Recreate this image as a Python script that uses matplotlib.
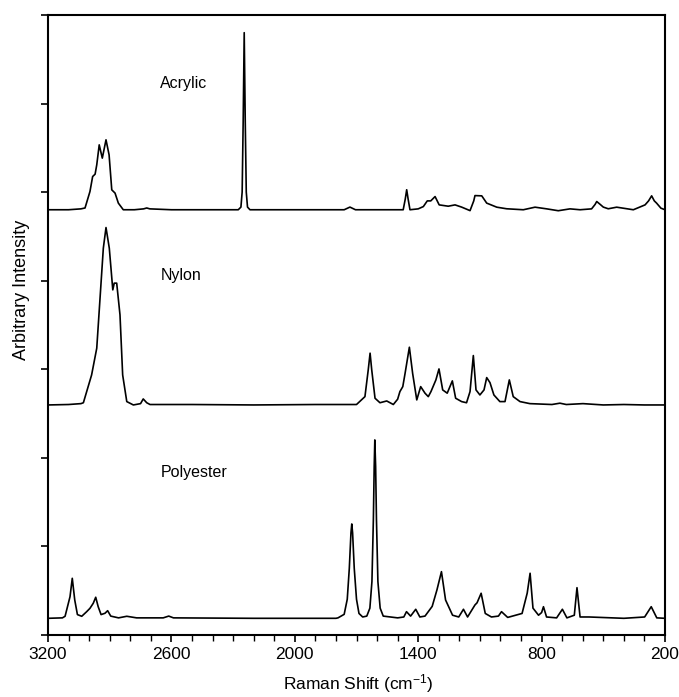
import matplotlib
matplotlib.use("Agg")
import matplotlib.pyplot as plt
from matplotlib.ticker import NullFormatter

plt.rcParams['font.family'] = ['Liberation Sans', 'DejaVu Sans']
plt.rcParams['mathtext.fontset'] = 'custom'
plt.rcParams['mathtext.rm'] = 'Liberation Sans'
plt.rcParams['mathtext.default'] = 'regular'

# traced spectra (Raman shift in cm-1, arbitrary intensity incl. vertical offset)
acrylic_x = [3200, 3100, 3040, 3020, 2996, 2983, 2971, 2963, 2951, 2936, 2918, 2903, 2890,
             2874, 2858, 2834, 2780, 2735, 2720, 2705, 2600, 2400, 2275, 2262, 2256, 2251,
             2246, 2241, 2236, 2230, 2218, 2100, 1760, 1732, 1705, 1500, 1473, 1463, 1456,
             1449, 1440, 1400, 1375, 1356, 1339, 1318, 1298, 1254, 1221, 1189, 1148, 1130,
             1124, 1091, 1067, 1018, 970, 889, 832, 775, 719, 662, 613, 557, 540, 532, 515,
             500, 476, 435, 354, 297, 280, 265, 252, 241, 220, 200]
acrylic_y = [4.80, 4.80, 4.81, 4.82, 5.006, 5.175, 5.202, 5.307, 5.533, 5.383, 5.590, 5.420,
             5.025, 4.988, 4.875, 4.80, 4.80, 4.81, 4.82, 4.81, 4.80, 4.80, 4.80, 4.83, 5.0,
             5.8, 6.80, 5.8, 5.0, 4.83, 4.80, 4.80, 4.80, 4.83, 4.80, 4.80, 4.80, 4.92, 5.026,
             4.92, 4.80, 4.81, 4.836, 4.90, 4.90, 4.949, 4.855, 4.84, 4.855, 4.83, 4.79, 4.90,
             4.96, 4.957, 4.875, 4.829, 4.811, 4.80, 4.829, 4.81, 4.789, 4.81, 4.80, 4.81, 4.86,
             4.893, 4.86, 4.83, 4.811, 4.829, 4.80, 4.855, 4.90, 4.957, 4.90, 4.875, 4.818, 4.80]

nylon_x = [3200, 3100, 3040, 3028, 2988, 2963, 2947, 2931, 2918, 2902, 2885, 2878, 2866,
           2850, 2837, 2817, 2785, 2750, 2737, 2720, 2704, 2500, 2200, 1900, 1700, 1659, 1643,
           1634, 1626, 1610, 1586, 1553, 1521, 1500, 1489, 1475, 1464, 1443, 1427, 1407, 1388,
           1367, 1351, 1338, 1314, 1299, 1281, 1259, 1234, 1218, 1189, 1165, 1148, 1132,
           1119, 1100, 1080, 1067, 1051, 1032, 1003, 978, 957, 938, 905, 857, 750, 711, 680,
           599, 500, 400, 300, 200]
nylon_y = [2.595, 2.60, 2.61, 2.62, 2.934, 3.236, 3.801, 4.366, 4.599, 4.366, 3.895, 3.971,
           3.971, 3.613, 2.934, 2.633, 2.595, 2.61, 2.663, 2.62, 2.60, 2.60, 2.595, 2.60,
           2.60, 2.689, 2.991, 3.180, 2.991, 2.671, 2.62, 2.64, 2.60, 2.66, 2.746, 2.802,
           2.95, 3.247, 2.95, 2.652, 2.802, 2.728, 2.689, 2.746, 2.878, 3.002, 2.765, 2.728,
           2.867, 2.671, 2.633, 2.62, 2.746, 3.153, 2.765, 2.708, 2.765, 2.904, 2.847, 2.708,
           2.633, 2.633, 2.878, 2.689, 2.633, 2.61, 2.60, 2.615, 2.60, 2.61, 2.595, 2.60,
           2.595, 2.595]

polyester_x = [3200, 3130, 3117, 3093, 3082, 3070, 3057, 3036, 3012, 2996, 2980, 2968, 2956,
               2942, 2923, 2910, 2895, 2857, 2817, 2769, 2640, 2613, 2590, 2200, 1800, 1790,
               1760, 1745, 1735, 1727, 1723, 1719, 1711, 1700, 1688, 1670, 1650, 1635, 1625,
               1618, 1614, 1611, 1607, 1603, 1596, 1585, 1570, 1500, 1470, 1457, 1437, 1412,
               1392, 1367, 1332, 1309, 1287, 1267, 1233, 1203, 1180, 1160, 1124, 1114, 1094,
               1074, 1044, 1010, 995, 965, 895, 870, 856, 842, 815, 800, 791, 776, 727, 699,
               677, 641, 628, 613, 569, 400, 299, 267, 240, 200]
polyester_y = [0.185, 0.19, 0.208, 0.429, 0.637, 0.392, 0.227, 0.208, 0.260, 0.298, 0.355,
               0.423, 0.316, 0.227, 0.242, 0.271, 0.21, 0.19, 0.208, 0.19, 0.19, 0.21, 0.19,
               0.185, 0.185, 0.19, 0.23, 0.40, 0.75, 1.15, 1.251, 1.15, 0.75, 0.40, 0.24, 0.20,
               0.21, 0.30, 0.60, 1.30, 1.90, 2.20, 1.90, 1.30, 0.60, 0.30, 0.21, 0.19, 0.20,
               0.26, 0.21, 0.287, 0.20, 0.21, 0.32, 0.505, 0.712, 0.392, 0.22, 0.20, 0.287,
               0.20, 0.336, 0.36, 0.468, 0.24, 0.20, 0.21, 0.26, 0.195, 0.24, 0.47, 0.694, 0.30,
               0.22, 0.25, 0.316, 0.20, 0.19, 0.287, 0.19, 0.22, 0.531, 0.20, 0.20, 0.185, 0.20,
               0.316, 0.19, 0.185]

labels = ["Acrylic", "Nylon", "Polyester"]
label_pos = [(2655, 6.23), (2651, 4.06), (2651, 1.83)]

major_x = [3200, 2600, 2000, 1400, 800, 200]
minor_x = list(range(3100, 200, -100))

fig = plt.figure(figsize=(6.79, 6.97), dpi=100)
ax = fig.add_axes([0.0707, 0.0894, 0.9087, 0.8891])

for xs, ys in [(acrylic_x, acrylic_y), (nylon_x, nylon_y), (polyester_x, polyester_y)]:
    ax.plot(xs, ys, color='black', lw=1.2)

for name, (tx, ty) in zip(labels, label_pos):
    ax.text(tx, ty, name, fontsize=11.5, ha='left', va='center')

ax.set_xlim(3200, 200)
ax.set_ylim(0, 7)
ax.set_xticks(major_x)
ax.set_xticks(minor_x, minor=True)
ax.set_yticks(range(0, 8))
ax.yaxis.set_major_formatter(NullFormatter())
ax.tick_params(axis='both', which='major', direction='out', length=5, width=1.2,
               labelsize=12.5, pad=4)
ax.tick_params(axis='x', which='minor', direction='out', length=4, width=1.0)
for s in ax.spines.values():
    s.set_linewidth(1.5)

fig.text(358 / 679, 1 - 684 / 697, "Raman Shift (cm$^{-1}$)", fontsize=12.5,
         ha='center', va='center')
fig.text(22 / 679, 1 - 290 / 697, "Arbitrary Intensity", fontsize=13,
         ha='center', va='center', rotation=90)

fig.savefig("out.png", dpi=100)
